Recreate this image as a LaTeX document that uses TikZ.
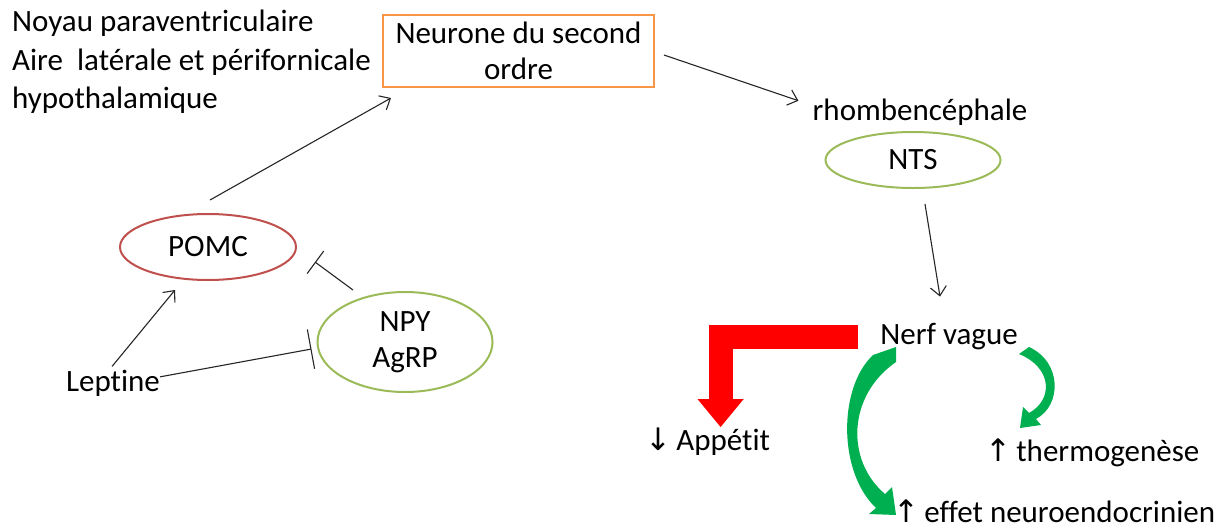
\documentclass[tikz,border=0pt]{standalone}
\usepackage{fontspec}
\setmainfont{Carlito}[Ligatures=NoCommon]
\newfontfamily\symfont{DejaVu Sans}
\usetikzlibrary{shapes.geometric,arrows.meta,calc}
\definecolor{orng}{HTML}{F79646}
\definecolor{rd}{HTML}{C0504D}
\definecolor{grn}{HTML}{9BBB59}
\definecolor{garrow}{HTML}{00B050}
\definecolor{rarrow}{HTML}{FF0000}
\begin{document}
\begin{tikzpicture}[x=1pt,y=-1pt,font=\fontsize{31}{36}\selectfont,
  txt/.style={inner sep=0pt},
  ell/.style={ellipse,draw,line width=2pt,inner sep=0pt,align=center},
  conn/.style={draw=black!85,line width=1.1pt,-{Straight Barb[length=9pt,width=16pt]}},
  inhiblong/.style={draw=black!85,line width=1.1pt,-{Bar[width=40pt]}},
  inhibshort/.style={draw=black!85,line width=1.1pt,-{Bar[width=28pt]}},
  bigred/.style={draw=rarrow,line width=24pt,line join=miter,-{Triangle[width=44pt,length=28pt]}},
  greenarrow/.style={fill=garrow}]
\useasboundingbox[fill=white] (0,0) rectangle (1227,528);

% texts
\node[txt,anchor=base west] (l1) at (12,31) {Noyau paraventriculaire};
\node[txt,anchor=base west] (l2) at (12,70) {Aire\ \ latérale et périfornicale};
\node[txt,anchor=base west] (l3) at (12,108) {hypothalamique};

\node[draw=orng,line width=2pt,minimum width=271pt,minimum height=72pt,align=center,inner sep=0pt] (box) at (518.5,51) {Neurone du second\\ordre};

\node[txt,anchor=base] (rh) at (920,120) {rhombencéphale};
\node[ell,draw=grn,minimum width=175pt,minimum height=56pt] (nts) at (913,160) {NTS};
\node[ell,draw=rd,minimum width=176pt,minimum height=66pt] (pomc) at (208,247) {POMC};
\node[ell,draw=grn,minimum width=175pt,minimum height=100pt] (npy) at (405,342) {NPY\\AgRP};
\node[txt,anchor=base] (lep) at (113,391) {Leptine};
\node[txt,anchor=base] (nerf) at (949,344) {Nerf vague};
\node[txt,anchor=base west] (app) at (645,450) {{\symfont ↓}\,Appétit};
\node[txt,anchor=base west] (thermo) at (985,461) {{\symfont ↑}\,thermogenèse};
\node[txt,anchor=base west] (effet) at (893,522) {{\symfont ↑}\,effet neuroendocrinien};

% connectors
\draw[conn] ($(pomc.center)+(2,-47)$) -- ($(box.south west)+(9,10)$);
\draw[conn] ($(box.east)+(9,4)$) -- ($(rh.west)+(-14,-11)$);
\draw[conn] ($(nts.south)+(12,15)$) -- ($(nerf.north)+(-9,-26)$);
\draw[conn] ($(lep.north)+(-1,-3)$) -- ($(pomc.center)+(-33,43)$);
\draw[inhiblong] ($(lep.east)+(0,-6)$) -- ($(npy.west)+(-5,7)$);
\draw[inhibshort] ($(npy.center)+(-52,-52)$) -- ($(pomc.center)+(107,15)$);

% red arrow
\draw[bigred] ($(nerf.west)+(-22,1)$) -| ($(app.north)+(13,0)$);

% green curved arrows
\fill[greenarrow] (873,355) -- (896,347) -- (896,362)
  .. controls (848,395) and (845,460) .. (885,494)
  -- (892,487) -- (896,515) -- (869,514) -- (876,508)
  .. controls (838,472) and (838,388) .. cycle;
\fill[greenarrow] (1019,354) -- (1029,347)
  .. controls (1062,362) and (1062,405) .. (1036,419)
  -- (1041,425) -- (1020,428) -- (1023,407) -- (1029,413)
  .. controls (1053,400) and (1053,368) .. cycle;
\end{tikzpicture}
\end{document}
